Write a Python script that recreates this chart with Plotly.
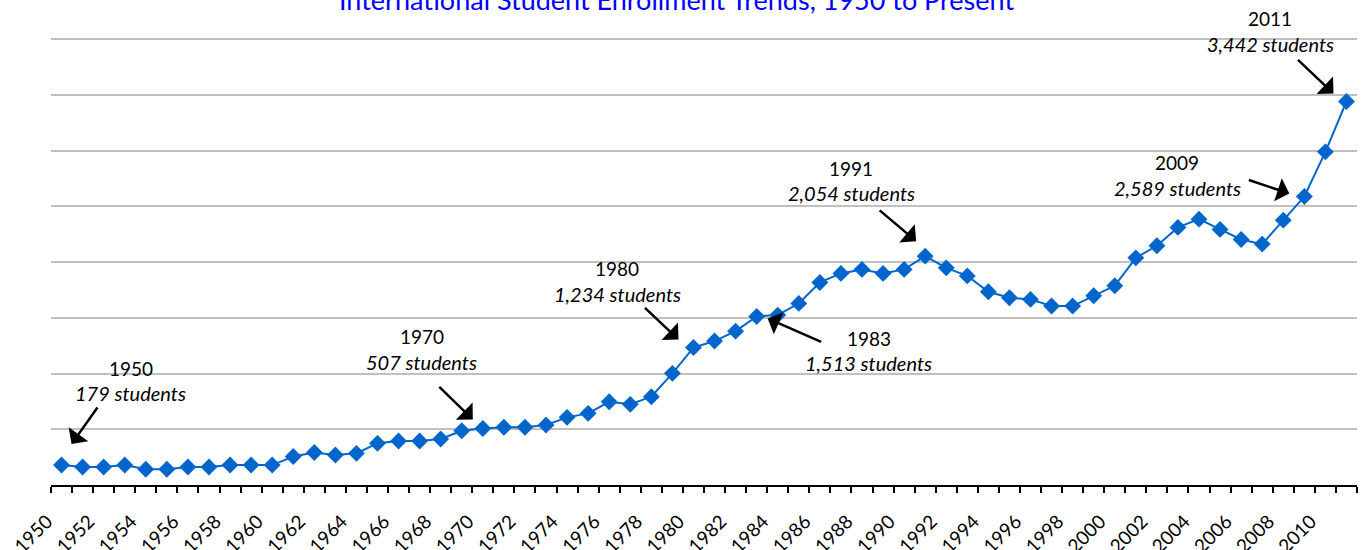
import plotly.graph_objects as go

years = list(range(1950, 2012))
students = [179, 161, 161, 179, 141, 141, 161, 161, 179, 179,
            179, 256, 292, 269, 284, 374, 395, 395, 413, 487,
            507, 518, 518, 538, 607, 643, 747, 724, 792, 1002,
            1234, 1292, 1381, 1513, 1525, 1630, 1818, 1899, 1935, 1899,
            1935, 2054, 1949, 1877, 1734, 1680, 1666, 1606, 1606, 1698,
            1788, 2039, 2147, 2312, 2386, 2294, 2204, 2162, 2377, 2589,
            2990, 3442]

label_years = list(range(1950, 2011, 2))

annot_years = [1950, 1970, 1980, 1983, 1991, 2009, 2011]
annot_values = [179, 507, 1234, 1513, 2054, 2589, 3442]

title_text = "International Student Enrollment Trends, 1950 to Present"

# layout offsets (pixels) for annotation text and arrows, relative to the data point
text_dx = [69, -61, -76, 112, -74, -127, -76]
year_dy = [97, 92, 79, -22, 88, 34, 83]
stud_dy = [72, 67, 54, -47, 63, 9, 58]
arrow_shift = [(10, 21), (-10, 9), (-15, 8), (11, -2), (-9, 15), (-15, 3), (-13, 8)]
arrow_tail = [(27, -38), (-35, -34), (-35, -33), (55, 24), (-38, -32), (-42, -14), (-37, -35)]

FONT = "Lato"

fig = go.Figure()
fig.add_trace(go.Scatter(
    x=years, y=students, mode="lines+markers",
    line=dict(color="#0066CC", width=2),
    marker=dict(symbol="diamond", size=13, color="#0066CC"),
    hoverinfo="x+y", showlegend=False,
))

annotations = [dict(
    x=0.4786, y=1, xref="paper", yref="paper", text=title_text, showarrow=False,
    xanchor="center", yanchor="middle", yshift=37,
    font=dict(family=FONT, size=27, color="#0000FF"),
)]
for i, (yr, val) in enumerate(zip(annot_years, annot_values)):
    annotations.append(dict(
        x=yr, y=val, xref="x", yref="y", text=str(yr), showarrow=False,
        xshift=text_dx[i], yshift=year_dy[i], xanchor="center", yanchor="middle",
        font=dict(family=FONT, size=19, color="black"),
    ))
    annotations.append(dict(
        x=yr, y=val, xref="x", yref="y", text="<i>{:,} students</i>".format(val),
        showarrow=False,
        xshift=text_dx[i], yshift=stud_dy[i], xanchor="center", yanchor="middle",
        font=dict(family=FONT, size=20, color="black"),
    ))
    annotations.append(dict(
        x=yr, y=val, xref="x", yref="y", text="", showarrow=True,
        xshift=arrow_shift[i][0], yshift=arrow_shift[i][1],
        ax=arrow_tail[i][0], ay=arrow_tail[i][1],
        arrowhead=1, arrowsize=1.6, arrowwidth=2.5, arrowcolor="black",
    ))

tickvals = [y - 0.5 for y in years] + [years[-1] + 0.5]
ticktext = [str(y) if y in label_years else "" for y in years] + [""]

fig.update_layout(
    width=1363, height=550,
    margin=dict(l=51, r=6, t=36, b=65, autoexpand=False),
    paper_bgcolor="white", plot_bgcolor="white",
    xaxis=dict(
        range=[years[0] - 0.5, years[-1] + 0.5], automargin=False,
        tickmode="array", tickvals=tickvals, ticktext=ticktext,
        tickangle=-45, ticks="outside", ticklen=6, tickwidth=1.5, tickcolor="black",
        showline=True, linecolor="black", linewidth=2,
        showgrid=False, zeroline=False,
        tickfont=dict(family=FONT, size=19, color="black"),
        ticklabelstandoff=10, ticklabelshift=-4,
    ),
    yaxis=dict(
        range=[0, 4030], dtick=500, tick0=0, automargin=False,
        showticklabels=False, showgrid=True, gridcolor="#C0C0C0", gridwidth=1.5,
        zeroline=False, showline=False, ticks="",
    ),
    annotations=annotations,
    font=dict(family=FONT),
)

fig.write_html(
    "out.html",
    config={"displayModeBar": False},
    post_script="document.body.style.margin='0';document.body.style.overflow='hidden';",
)
